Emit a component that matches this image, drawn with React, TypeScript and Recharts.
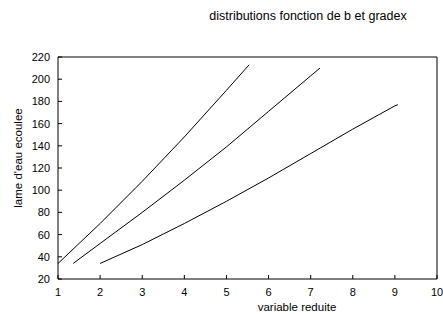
import { LineChart, Line, XAxis, YAxis } from 'recharts'

// three curves, x = variable reduite, y = lame d'eau ecoulee
const curveA = [
  { x: 1, y: 34 },
  { x: 2, y: 70 },
  { x: 3, y: 108 },
  { x: 4, y: 148 },
  { x: 5, y: 190 },
  { x: 5.54, y: 213 },
]
const curveB = [
  { x: 1.36, y: 34 },
  { x: 2, y: 52 },
  { x: 3, y: 80 },
  { x: 4, y: 109 },
  { x: 5, y: 139 },
  { x: 6, y: 171 },
  { x: 7, y: 203 },
  { x: 7.22, y: 210 },
]
const curveC = [
  { x: 2, y: 34 },
  { x: 3, y: 51 },
  { x: 4, y: 70 },
  { x: 5, y: 90 },
  { x: 6, y: 111 },
  { x: 7, y: 133 },
  { x: 8, y: 155 },
  { x: 9, y: 176 },
  { x: 9.07, y: 177 },
]

const xTicks = [1, 2, 3, 4, 5, 6, 7, 8, 9, 10]
const yTicks = [20, 40, 60, 80, 100, 120, 140, 160, 180, 200, 220]

const title = 'distributions fonction de b et gradex'
const xTitle = 'variable reduite'
const yTitle = "lame d'eau ecoulee"

const font = { fontFamily: 'Liberation Sans, Arial, sans-serif', fontSize: 11, fill: '#000' }
const hidden = () => <g />

export default function App() {
  return (
    <div style={{ position: 'absolute', left: 0, top: 0, width: 443, height: 314, background: '#fff' }}>
      <LineChart width={443} height={314} margin={{ top: 56, right: 5, bottom: 34, left: 57 }}>
        <text x={308} y={20} textAnchor="middle" style={{ ...font, fontSize: 12.5 }}>
          {title}
        </text>
        <text x={297} y={311} textAnchor="middle" style={{ ...font, fontSize: 11.5 }}>
          {xTitle}
        </text>
        <text
          x={0}
          y={0}
          transform="translate(22 158) rotate(-90)"
          textAnchor="middle"
          style={{ ...font, fontSize: 11.5 }}
        >
          {yTitle}
        </text>
        <XAxis
          xAxisId="b"
          type="number"
          dataKey="x"
          domain={[1, 10]}
          ticks={xTicks}
          height={1}
          tickSize={-4}
          tickMargin={13}
          tick={font}
          stroke="#000"
          allowDataOverflow
        />
        <XAxis
          xAxisId="t"
          orientation="top"
          type="number"
          dataKey="x"
          domain={[1, 10]}
          ticks={xTicks}
          height={1}
          tickSize={-4}
          tick={hidden}
          stroke="#000"
        />
        <YAxis
          yAxisId="l"
          type="number"
          domain={[20, 220]}
          ticks={yTicks}
          width={1}
          tickSize={-4}
          tickMargin={12}
          tick={font}
          stroke="#000"
        />
        <YAxis
          yAxisId="r"
          orientation="right"
          type="number"
          domain={[20, 220]}
          ticks={yTicks}
          width={1}
          tickSize={-4}
          tick={hidden}
          stroke="#000"
        />
        {[curveA, curveB, curveC].map((c, i) => (
          <Line
            key={i}
            xAxisId="b"
            yAxisId="l"
            data={c}
            dataKey="y"
            type="linear"
            stroke="#000"
            strokeWidth={1}
            dot={false}
            isAnimationActive={false}
          />
        ))}
      </LineChart>
    </div>
  )
}
